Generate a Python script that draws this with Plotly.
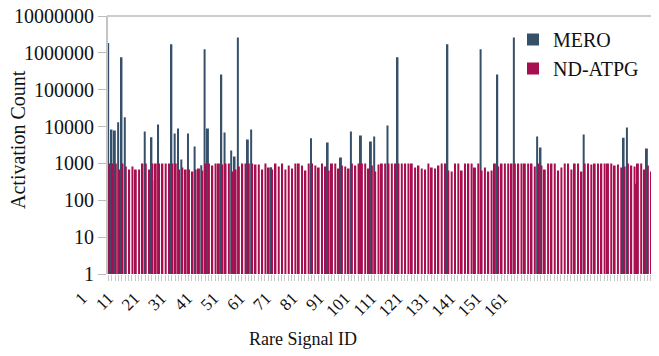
import plotly.graph_objects as go

signal_ids = list(range(1, 167))

mero = [
    1850000, 8300, 7800, 13000, 760000, 18000, 0, 0, 0, 0,
    0, 7400, 0, 5100, 345, 11400, 0, 0, 0, 1700000,
    6500, 8900, 1280, 0, 6500, 0, 2900, 0, 890, 1250000,
    8900, 0, 0, 0, 260000, 6900, 0, 2240, 1540, 2600000,
    0, 0, 4460, 8300, 0, 0, 0, 0, 0, 790,
    0, 0, 0, 0, 0, 0, 0, 0, 0, 0,
    0, 4800, 0, 0, 0, 0, 3700, 0, 0, 0,
    1440, 0, 0, 7400, 0, 0, 5700, 0, 0, 3950,
    5400, 0, 0, 0, 10700, 0, 0, 760000, 0, 0,
    0, 0, 0, 0, 0, 0, 0, 0, 0, 0,
    0, 0, 1700000, 0, 0, 0, 0, 0, 0, 0,
    0, 0, 1250000, 0, 0, 0, 0, 260000, 0, 0,
    0, 0, 2600000, 0, 0, 0, 0, 0, 0, 5400,
    2700, 0, 0, 0, 0, 0, 0, 0, 0, 0,
    0, 0, 0, 6100, 0, 0, 0, 0, 0, 0,
    0, 0, 0, 0, 0, 5000, 9500, 0, 0, 280,
    0, 0, 2550, 0, 0, 0,
]

nd_atpg = [
    1000, 1000, 1000, 680, 1000, 830, 680, 830, 680, 680,
    1000, 1000, 680, 1000, 1000, 1000, 1000, 1000, 1000, 1000,
    1000, 680, 770, 680, 680, 600, 680, 730, 640, 1000,
    1000, 880, 1000, 1000, 930, 1000, 1000, 600, 680, 830,
    1000, 1000, 1000, 1000, 930, 930, 680, 1000, 770, 680,
    1000, 830, 1000, 680, 880, 730, 1000, 1000, 880, 640,
    1000, 1000, 880, 770, 1000, 830, 640, 1000, 1000, 730,
    880, 830, 730, 1000, 880, 1000, 1000, 1000, 730, 880,
    600, 930, 1000, 1000, 1000, 1000, 1000, 1000, 1000, 1000,
    1000, 1000, 770, 880, 730, 680, 1000, 770, 730, 880,
    1000, 1000, 640, 600, 1000, 1000, 640, 1000, 1000, 1000,
    770, 1000, 640, 770, 600, 640, 1000, 830, 1000, 1000,
    1000, 1000, 1000, 1000, 1000, 1000, 1000, 1000, 830, 1000,
    880, 680, 1000, 1000, 1000, 640, 770, 1000, 1000, 680,
    1000, 1000, 600, 1000, 1000, 930, 1000, 1000, 1000, 1000,
    1000, 1000, 880, 930, 770, 830, 1000, 880, 830, 1000,
    1000, 680, 880, 600, 930, 880,
]

x_label_text = [str(v) for v in range(1, 167, 10)]
y_tick_vals = [10 ** k for k in range(0, 8)]
y_tick_text = [str(v) for v in y_tick_vals]

FONT = "Liberation Serif"
OFF = 8                      # page body margin
W, H = 659 - OFF, 356 - OFF
L_PX, T_PX, B_PX = 107 - OFF, 16 - OFF, 274 - OFF
PH = B_PX - T_PX
N = len(signal_ids)
PITCH = (W - L_PX) / N       # px per category

def px_x(p):
    return (p - OFF) / W

def px_y(p):
    return (B_PX - (p - OFF)) / PH

# x axis extends left of the y axis so the shifted labels can show
DOM0 = 40
x_lo = 0.5 - (L_PX - DOM0) / PITCH
# label anchor positions, as laid out in the reference (window px)
lab_p0, lab_step = 82.0, 26.3
lab_vals = [0.5 + ((lab_p0 + lab_step * k) - 107) / PITCH for k in range(len(x_label_text))]

fig = go.Figure()
fig.add_trace(go.Bar(
    x=signal_ids, y=[v if v > 0 else None for v in mero], name="MERO",
    marker=dict(color="#36506a", line=dict(width=0)),
    offset=-0.45, width=0.6,
))
fig.add_trace(go.Bar(
    x=signal_ids, y=nd_atpg, name="ND-ATPG",
    marker=dict(color="#a70e4f", line=dict(width=0)),
    offset=-0.15, width=0.6,
))

fig.update_layout(
    width=W, height=H,
    margin=dict(l=0, r=0, t=T_PX, b=H - B_PX, pad=0),
    barmode="overlay",
    paper_bgcolor="white", plot_bgcolor="white",
    font=dict(family=FONT, color="#111", size=17),
    showlegend=True,
    legend=dict(
        x=px_x(513), xanchor="left", y=px_y(20), yanchor="top",
        font=dict(family=FONT, size=20, color="#111"),
        bgcolor="rgba(0,0,0,0)", tracegroupgap=0,
    ),
    xaxis=dict(
        domain=[DOM0 / W, 1], range=[x_lo, N + 0.5], type="linear",
        tickmode="array", tickvals=lab_vals, ticktext=x_label_text,
        tickangle=-45, ticks="", ticklabelstandoff=10,
        tickfont=dict(family=FONT, size=17, color="#111"),
        minor=dict(tickmode="array", tickvals=signal_ids, ticks="outside",
                   ticklen=6, tickwidth=1, tickcolor="#c8c8c8", showgrid=False),
        showgrid=False, zeroline=False, showline=False, automargin=False,
    ),
    yaxis=dict(
        type="log", range=[0, 7], anchor="free", position=L_PX / W,
        tickmode="array", tickvals=y_tick_vals, ticktext=y_tick_text,
        ticks="outside", ticklen=8, tickwidth=1, tickcolor="#bbbbbb",
        tickfont=dict(family=FONT, size=20, color="#111"),
        ticklabeloverflow="allow",
        showline=True, linecolor="#c4c4c4", linewidth=2,
        showgrid=False, zeroline=False, automargin=False,
    ),
    shapes=[dict(
        type="line", xref="paper", yref="paper",
        x0=L_PX / W, x1=1, y0=1, y1=1,
        line=dict(color="#cccccc", width=2),
    )],
    annotations=[
        dict(text="Activation Count", textangle=-90, showarrow=False,
             xref="paper", yref="paper", x=px_x(18), y=px_y(140),
             xanchor="center", yanchor="middle",
             font=dict(family=FONT, size=20, color="#111")),
        dict(text="Rare Signal ID", showarrow=False,
             xref="paper", yref="paper", x=px_x(303), y=px_y(339),
             xanchor="center", yanchor="middle",
             font=dict(family=FONT, size=18, color="#111")),
    ],
)

fig.write_html("out.html")
